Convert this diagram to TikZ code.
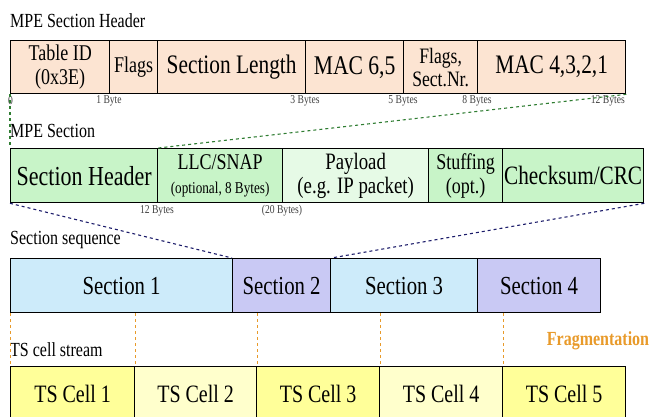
\documentclass[tikz,border=0pt]{standalone}
\usepackage{fontspec}
\setmainfont{Liberation Serif}[FakeStretch=0.8]
\definecolor{hdrfill}{HTML}{FCE4D2}
\definecolor{secfill}{HTML}{C8F4C8}
\definecolor{payfill}{HTML}{E6FAE6}
\definecolor{bluefill}{HTML}{CDEBFA}
\definecolor{violetfill}{HTML}{C9C9F4}
\definecolor{yellowA}{HTML}{FFFF99}
\definecolor{yellowB}{HTML}{FFFFCC}
\definecolor{linkgreen}{HTML}{2F7D32}
\definecolor{linknavy}{HTML}{1C1C6A}
\definecolor{fragorange}{HTML}{E89A2A}
\newcommand{\fsz}[1]{\fontsize{#1}{1.1\dimexpr #1pt\relax}\selectfont}
\tikzset{
  cell/.style={draw=black, line width=1.3pt, inner sep=0pt, anchor=north west, align=center},
  rowlabel/.style={anchor=west, inner sep=0pt, font=\fsz{20}},
  bytelabel/.style={inner sep=0pt, font=\fsz{12}, text=black!75},
  greenlink/.style={draw=linkgreen, dashed, line width=1.1pt},
  navylink/.style={draw=linknavy, dashed, line width=1.1pt},
  fraglink/.style={draw=fragorange, dashed, line width=0.9pt},
}
\begin{document}
\begin{tikzpicture}[x=1pt, y=-1pt]
\useasboundingbox (0,0) rectangle (651,416);
\clip (0,0) rectangle (651,416);

% row titles
\node[rowlabel] (tHdr) at (10,21) {MPE Section Header};
\node[rowlabel] (tSec) at (10,131) {MPE Section};
\node[rowlabel] (tSeq) at (10,240) {Section sequence};
\node[rowlabel] (tTs)  at (10,350) {TS cell stream};

% MPE section header fields
\node[cell, fill=hdrfill, minimum width=99pt,  minimum height=53pt, font=\fsz{22.5}] (hTab) at (10,40) {Table ID\\(0x3E)};
\node[cell, fill=hdrfill, minimum width=48pt,  minimum height=53pt, font=\fsz{22.5}] (hFlg) at (109,40) {Flags};
\node[cell, fill=hdrfill, minimum width=148pt, minimum height=53pt, font=\fsz{26.7}] (hLen) at (157,40) {Section Length};
\node[cell, fill=hdrfill, minimum width=98pt,  minimum height=53pt, font=\fsz{27}] (hM65) at (305,40) {MAC 6,5};
\node[cell, fill=hdrfill, minimum width=74pt,  minimum height=53pt, font=\fontsize{22}{23}\selectfont] (hSnr) at (403,40) {Flags,\\Sect.Nr.};
\node[cell, fill=hdrfill, minimum width=148pt, minimum height=53pt, font=\fsz{26.7}] (hM41) at (477,40) {MAC 4,3,2,1};

% byte offsets
\node[bytelabel, anchor=west] (b0) at (8,101) {0};
\node[bytelabel] (b1) at (109,101) {1 Byte};
\node[bytelabel] (b3) at (305,101) {3 Bytes};
\node[bytelabel] (b5) at (403,101) {5 Bytes};
\node[bytelabel] (b8) at (477,101) {8 Bytes};
\node[bytelabel, anchor=east] (b12) at (625,101) {12 Bytes};

% MPE section fields
\node[cell, fill=secfill, minimum width=147pt, minimum height=54pt, font=\fsz{27.5}] (sHdr) at (10,148) {Section Header};
\node[cell, fill=secfill, minimum width=125pt, minimum height=54pt, font=\fontsize{22.5}{23}\selectfont] (sLlc) at (157,148) {LLC/SNAP\\[1pt]{\fontsize{16.5}{18}\selectfont (optional, 8 Bytes)}};
\node[cell, fill=payfill, minimum width=146pt, minimum height=54pt, font=\fontsize{23.5}{24}\selectfont] (sPay) at (282,148) {Payload\\(e.g. IP packet)};
\node[cell, fill=secfill, minimum width=74pt,  minimum height=54pt, font=\fontsize{22.5}{24}\selectfont] (sStf) at (428,148) {Stuffing\\(opt.)};
\node[cell, fill=secfill, minimum width=141pt, minimum height=54pt, font=\fsz{26.5}] (sCrc) at (502,148) {Checksum/CRC};

\node[bytelabel] (c12) at (157,211) {12 Bytes};
\node[bytelabel] (c20) at (282,211) {(20 Bytes)};

% section sequence
\node[cell, fill=bluefill,   minimum width=222pt, minimum height=54pt, font=\fsz{26}] (q1) at (10,258) {Section 1};
\node[cell, fill=violetfill, minimum width=98pt,  minimum height=54pt, font=\fsz{26}] (q2) at (232,258) {Section 2};
\node[cell, fill=bluefill,   minimum width=147pt, minimum height=54pt, font=\fsz{26}] (q3) at (330,258) {Section 3};
\node[cell, fill=violetfill, minimum width=123pt, minimum height=54pt, font=\fsz{26}] (q4) at (477,258) {Section 4};

% TS cells
\node[cell, fill=yellowA, minimum width=124pt, minimum height=54pt, font=\fsz{25}] (t1) at (10,366) {TS Cell 1};
\node[cell, fill=yellowB, minimum width=122pt, minimum height=54pt, font=\fsz{25}] (t2) at (134,366) {TS Cell 2};
\node[cell, fill=yellowA, minimum width=123pt, minimum height=54pt, font=\fsz{25}] (t3) at (256,366) {TS Cell 3};
\node[cell, fill=yellowB, minimum width=123pt, minimum height=54pt, font=\fsz{25}] (t4) at (379,366) {TS Cell 4};
\node[cell, fill=yellowA, minimum width=123pt, minimum height=54pt, font=\fsz{25}] (t5) at (502,366) {TS Cell 5};

\node[inner sep=0pt, font=\bfseries\fsz{20}, text=fragorange] (frag) at (598,341) {Fragmentation};

% header expands into the section header field
\draw[greenlink] (hTab.south west) -- (sHdr.north west);
\draw[greenlink] (hM41.south east) -- (sHdr.north east);

% MPE section expands into section 2
\draw[navylink] (sHdr.south west) -- (q2.north west);
\draw[navylink] (sCrc.south east) -- (q2.north east);

% fragmentation boundaries
\draw[fraglink] (t1.north west |- q1.south) -- (t1.north west);
\draw[fraglink] (t1.north east |- q1.south) -- (t1.north east);
\draw[fraglink] (t2.north east |- q2.south) -- (t2.north east);
\draw[fraglink] (t3.north east |- q3.south) -- (t3.north east);
\draw[fraglink] (t4.north east |- q4.south) -- (t4.north east);
\end{tikzpicture}
\end{document}
